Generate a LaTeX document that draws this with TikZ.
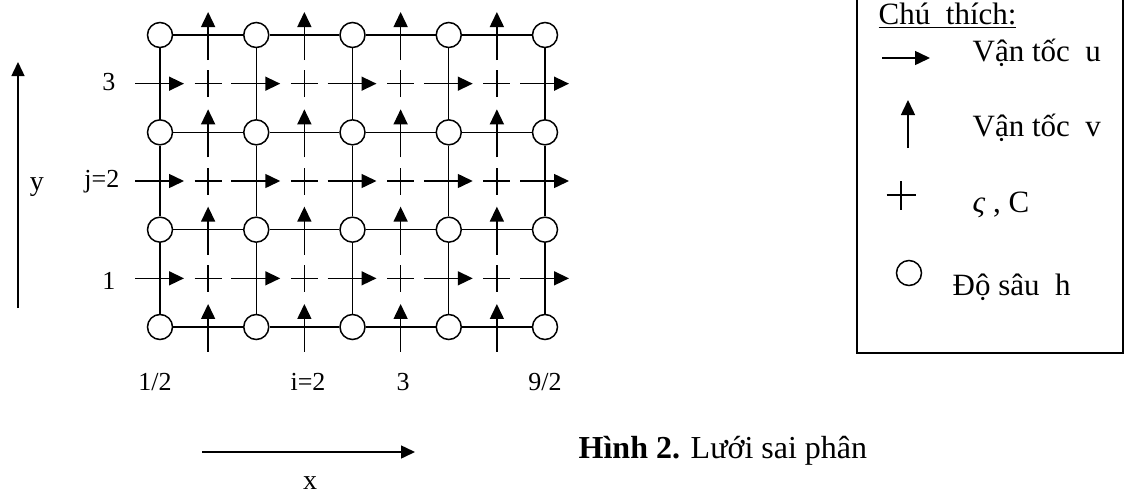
\documentclass[tikz,border=0pt]{standalone}
\usepackage{fontspec}
\setmainfont{Liberation Serif}
\usetikzlibrary{arrows.meta,shapes.misc}
\begin{document}
\begin{tikzpicture}[x=0.5pt,y=-0.5pt,
  line width=0.7pt,
  hnode/.style={circle,draw,fill=white,minimum size=12.5pt,inner sep=0pt,line width=0.75pt},
  plusmark/.style={cross out,draw,rotate=45,minimum size=8.8pt,inner sep=0pt,line width=0.75pt},
  vel/.style={-{Triangle[length=7.5pt,width=7pt]},line width=0.75pt},
  axis/.style={-{Triangle[length=7pt,width=6.5pt]},line width=0.75pt},
  lab/.style={font=\fontsize{13}{15}\selectfont,inner sep=0pt},
  axlab/.style={font=\fontsize{14}{16}\selectfont,inner sep=0pt},
  legtext/.style={font=\fontsize{15.5}{18}\selectfont,inner sep=0pt,anchor=west},
  captext/.style={font=\fontsize{16}{19}\selectfont,inner sep=0pt,anchor=west}
]
\useasboundingbox (0,0) rectangle (1126,494);

% depth nodes h
\foreach \i in {0,...,4}
  \foreach \j in {0,...,3}
    \node[hnode] (c\i\j) at ({160+96.25*\i},{35+97.33*\j}) {};

% grid lines
\foreach \i/\k in {0/1,1/2,2/3,3/4}
  \foreach \j in {0,...,3}
    \draw (c\i\j) -- (c\k\j);
\foreach \i in {0,...,4}
  \foreach \j/\k in {0/1,1/2,2/3}
    \draw (c\i\j) -- (c\i\k);

% u velocities
\foreach \i in {0,...,4}
  \foreach \j in {0,...,2}{
    \coordinate (ua\i\j) at ({160+96.25*\i-25},{83.67+97.33*\j});
    \coordinate (ub\i\j) at ({160+96.25*\i+24},{83.67+97.33*\j});
    \draw[vel] (ua\i\j) -- (ub\i\j);
  }

% v velocities
\foreach \i in {0,...,3}
  \foreach \j in {0,...,3}{
    \coordinate (va\i\j) at ({208.125+96.25*\i},{35+97.33*\j+25});
    \coordinate (vb\i\j) at ({208.125+96.25*\i},{35+97.33*\j-23});
    \draw[vel] (va\i\j) -- (vb\i\j);
  }

% zeta, C points
\foreach \i in {0,...,3}
  \foreach \j in {0,...,2}
    \node[plusmark] (p\i\j) at ({208.125+96.25*\i},{83.67+97.33*\j}) {};

% row labels
\node[lab,anchor=east] (r3) at (116,82) {3};
\node[lab,anchor=east] (r2) at (120,182) {j=2};
\node[lab,anchor=east] (r1) at (116,281) {1};

% column labels
\node[lab] (k1) at (155,382) {1/2};
\node[lab] (k2) at (308,382) {i=2};
\node[lab] (k3) at (403,382) {3};
\node[lab] (k4) at (545,382) {9/2};

% axes
\coordinate (ya) at (18,308);
\coordinate (yb) at (18,62);
\draw[axis] (ya) -- (yb);
\node[axlab] (ylab) at (37,187) {y};
\coordinate (xa) at (202,452);
\coordinate (xb) at (415,452);
\draw[axis] (xa) -- (xb);
\node[axlab,anchor=base] (xlab) at (310,489) {x};

% caption
\node[captext] (cap) at (578,451) {\textbf{Hình 2.} Lưới sai phân};

% legend
\draw (857,-5) rectangle (1123,353);
\node[legtext] (lt) at (878,16) {\underline{Chú\ \ thích:}};
\coordinate (lua) at (882,58);
\coordinate (lub) at (930,58);
\draw[vel] (lua) -- (lub);
\node[legtext] (lu) at (972,53) {Vận tốc\ \ u};
\coordinate (lva) at (908,148);
\coordinate (lvb) at (908,100);
\draw[vel] (lva) -- (lvb);
\node[legtext] (lv) at (972,128) {Vận tốc\ \ v};
\node[plusmark,minimum size=9.5pt] (lp) at (901,195) {};
\node[legtext] (lz) at (972,205) {{\itshape ς} , C};
\node[hnode] (lc) at (909,273) {};
\node[legtext] (lh) at (952,287) {Độ sâu\ \ h};
\end{tikzpicture}
\end{document}
